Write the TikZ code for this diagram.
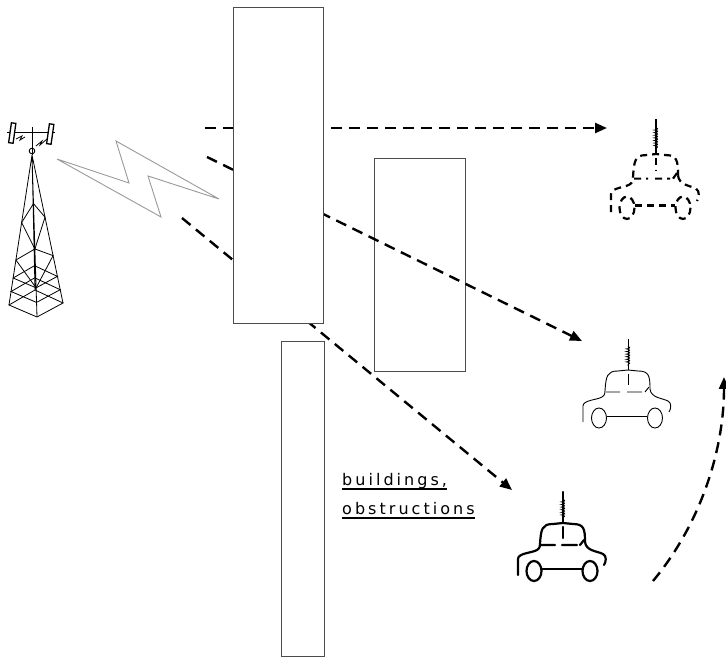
\documentclass[tikz,border=0pt]{standalone}
\usepackage{fontspec}
\setsansfont{DejaVu Sans}[LetterSpace=19]
\usetikzlibrary{arrows.meta,calc,decorations.pathmorphing}

\begin{document}
\begin{tikzpicture}[x=1pt,y=-1pt,
  building/.style={draw=black!70, line width=1.1pt, fill=white, rectangle,
    inner sep=0pt, anchor=north west},
  ray/.style={line width=2.4pt, dash pattern=on 11pt off 7pt,
    -{Triangle[length=12pt,width=10pt]}},
  bolt/.style={draw=black!40, line width=0.9pt, line join=miter},
  towerline/.style={line width=0.8pt, black},
  carthick/.style={line width=2.2pt, line cap=round},
  carthin/.style={line width=0.9pt},
  cardash/.style={line width=2.2pt, dash pattern=on 7pt off 5pt},
  label/.style={font=\sffamily\fontsize{16}{16}\selectfont, inner sep=0pt, anchor=base west},
  car/.pic={
    % antenna with its coil
    \draw[solid] (0,-31) -- (0,0);
    \draw[solid, line width=0.8pt, decorate,
      decoration={coil, aspect=0.6, segment length=2.6pt, amplitude=1.6pt}] (0,-24) -- (0,-4);
    % cabin
    \draw (-23,21) .. controls (-22,6) and (-21,1) .. (-10,1) -- (0,0) -- (10,1)
      .. controls (21,1) and (22,6) .. (22,19);
    \draw (-22,22) -- (-8,22) (-1,22) -- (14,22) (17,22) -- (21,17);
    \draw (0,4) -- (0,15);
    % body
    \draw (-45,52) -- (-45,36) .. controls (-45,30) and (-31,30) .. (-26,27)
      .. controls (-23,25) and (-23,23) .. (-23,21);
    \draw (22,19) .. controls (23,28) and (34,28) .. (40,31)
      .. controls (44,33) and (43,39) .. (41,42);
    % wheels and axle
    \draw (-29,48) ellipse [x radius=7.5, y radius=10];
    \draw (27,48) ellipse [x radius=7.5, y radius=10];
    \draw (-21,46) -- (19,46);
  }
]
\useasboundingbox (0,0) rectangle (726,660);

% ---- radio tower ----
\coordinate (ap) at (32,155);
\coordinate (tl) at (9,305);
\coordinate (tf) at (37,317);
\coordinate (tr) at (63,303);
\coordinate (tk) at (35,290);
\draw[towerline] (ap) -- (tl) (ap) -- (tf) (ap) -- (tr) (ap) -- (tk);
\foreach \t in {0.82,0.91,1}
  \draw[towerline] ($(ap)!\t!(tl)$) -- ($(ap)!\t!(tf)$) -- ($(ap)!\t!(tr)$)
    -- ($(ap)!\t!(tk)$) -- cycle;
\draw[towerline] ($(ap)!0.3!(tf)$) -- ($(ap)!0.45!(tl)$) -- ($(ap)!0.58!(tf)$)
  -- ($(ap)!0.7!(tl)$) -- ($(ap)!0.82!(tf)$);
\draw[towerline] ($(ap)!0.3!(tf)$) -- ($(ap)!0.42!(tr)$) -- ($(ap)!0.58!(tf)$)
  -- ($(ap)!0.68!(tr)$) -- ($(ap)!0.82!(tf)$);
% antennas on top
\draw[line width=1pt] (7,133) -- (55,133);
\draw[line width=1pt] (32,127) -- (32,155);
\draw[line width=0.9pt] (32,151) circle [radius=2.8];
\draw[line width=1.3pt, fill=white, rotate around={-8:(12,133)}] (10,123) rectangle (14.5,143);
\draw[line width=1.3pt, fill=white, rotate around={-8:(50,134)}] (48,124) rectangle (52.5,144);
\draw[line width=0.8pt] (36,146) -- (42,141) -- (40,145) -- (47,139);
\draw[line width=0.8pt] (16,139) -- (22,136) -- (20,140) -- (25,137);

% ---- lightning bolt ----
\draw[bolt] (57,159) -- (129,183) -- (116,141) -- (219,199) -- (148,176)
  -- (161,217) -- cycle;

% ---- buildings, signal paths ----
\node[building, minimum width=91pt, minimum height=213pt] (b2) at (374,158) {};

\coordinate (s1) at (205,128);  \coordinate (e1) at (607,128);
\coordinate (s2) at (207,157);  \coordinate (e2) at (582,341);
\coordinate (s3) at (182,218);  \coordinate (e3) at (512,490);
\coordinate (s4) at (653,581);  \coordinate (e4) at (724,377);
\draw[ray] (s1) -- (e1);
\draw[ray] (s2) -- (e2);
\draw[ray] (s3) -- (e3);
\draw[ray] (s4) .. controls (702,522) and (724,448) .. (e4);

\node[building, minimum width=90pt, minimum height=316pt] (b1) at (233,7) {};
\node[building, minimum width=43pt, minimum height=315pt] (b3) at (281,341) {};

% ---- caption ----
\node[label] (t1) at (342,485) {buildings,};
\node[label] (t2) at (342,514) {obstructions};
\draw[line width=1.4pt] ([yshift=-4pt]t1.base west) -- ([yshift=-4pt]t1.base east);
\draw[line width=1.4pt] ([yshift=-4pt]t2.base west) -- ([yshift=-4pt]t2.base east);

% ---- vehicles ----
\pic[cardash, yscale=1.12] (car1) at (656,154) {car};
\pic[carthin] (car2) at (628,370) {car};
\pic[carthick] (car3) at (563,523) {car};
\end{tikzpicture}
\end{document}
